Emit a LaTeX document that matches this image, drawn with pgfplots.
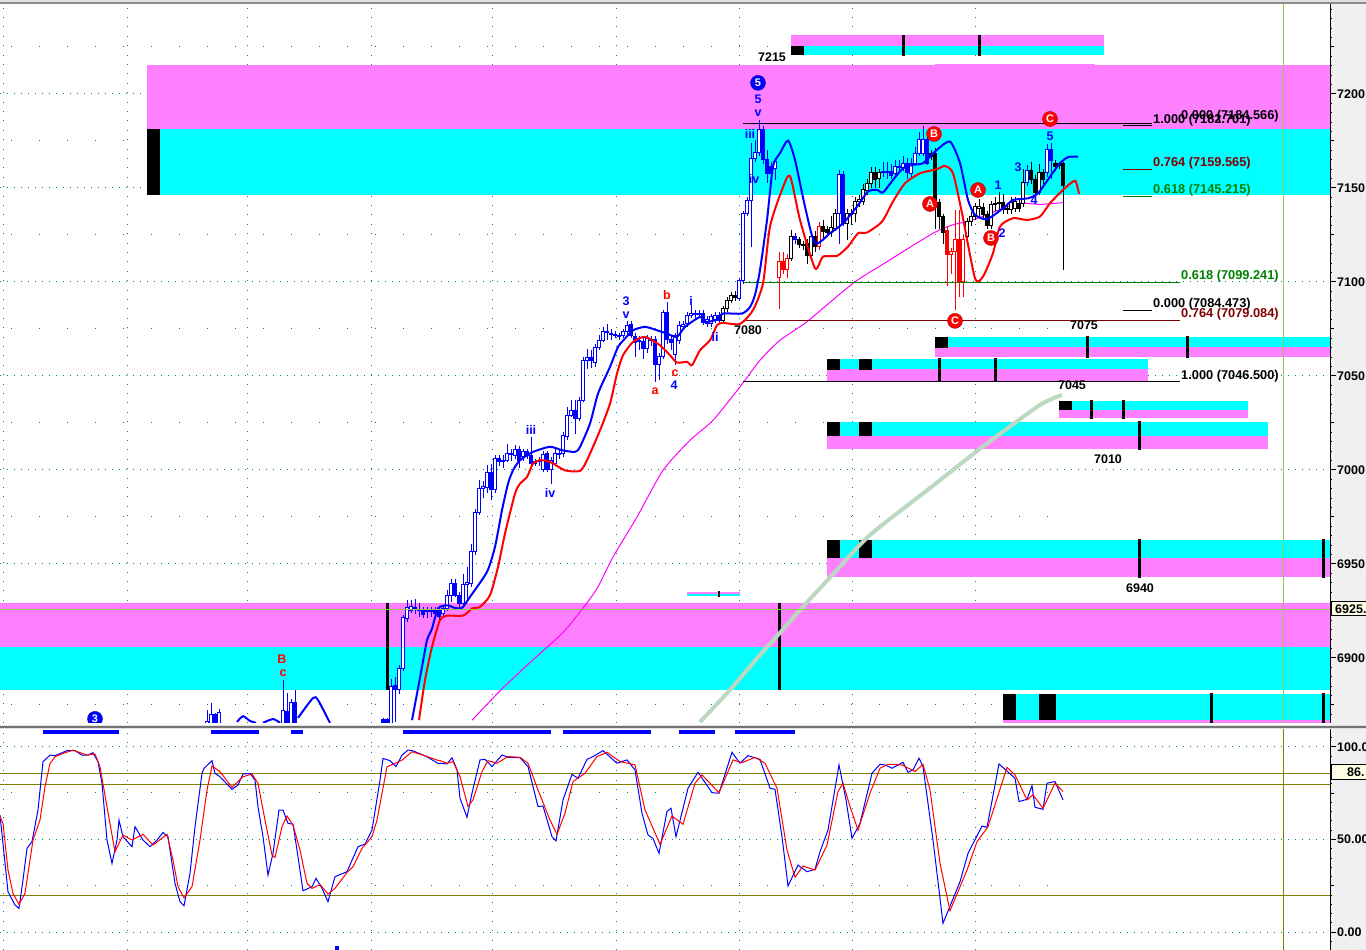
\documentclass[border=0pt]{standalone}
\usepackage{fontspec}
\setmainfont{Liberation Sans}
\usepackage{pgfplots}
\pgfplotsset{compat=1.18}

\definecolor{pinkband}{HTML}{FF80FF}
\definecolor{cyanband}{HTML}{00FFFF}
\definecolor{dotteal}{HTML}{008080}
\definecolor{olive2}{HTML}{808000}
\definecolor{vgreen}{HTML}{90C850}
\definecolor{pale}{HTML}{BCD8C0}
\definecolor{fibred}{HTML}{800000}
\definecolor{fibgreen}{HTML}{008000}
\definecolor{boxy}{HTML}{FFFFE6}
\definecolor{mg}{HTML}{FF00FF}

\newcommand\tk{\fontsize{12.5}{14}\selectfont\bfseries}
\newcommand\lbl{\fontsize{12.5}{14}\selectfont\bfseries}
\newcommand\fib{\fontsize{12.8}{14}\selectfont\bfseries}

% line colour, body colour, x, high, low, body top, body bottom
\newcommand\cnd[7]{%
  \pgfmathsetmacro\xa{#3-1.5}\pgfmathsetmacro\xb{#3+1.5}%
  \edef\temp{\noexpand\addplot[#1,line width=1pt] coordinates {(#3,#4)(#3,#5)};%
    \noexpand\addplot[draw=#1,fill=#2,line width=1pt] coordinates {(\xa,#6)(\xb,#6)(\xb,#7)(\xa,#7)} -- cycle;}\temp}
\newcommand\BH[5]{\cnd{blue}{white}{#1}{#2}{#3}{#4}{#5}}
\newcommand\BF[5]{\cnd{blue}{blue}{#1}{#2}{#3}{#4}{#5}}
\newcommand\KH[5]{\cnd{black}{white}{#1}{#2}{#3}{#4}{#5}}
\newcommand\KF[5]{\cnd{black}{black}{#1}{#2}{#3}{#4}{#5}}
\newcommand\RH[5]{\cnd{red}{white}{#1}{#2}{#3}{#4}{#5}}
\newcommand\RF[5]{\cnd{red}{red}{#1}{#2}{#3}{#4}{#5}}

% colour, x1, x2, y1, y2
\newcommand\rect[5]{\addplot[fill=#1,draw=none] coordinates {(#2,#4)(#3,#4)(#3,#5)(#2,#5)} -- cycle;}
\newcommand\tbar[3]{\addplot[black,line width=3pt] coordinates {(#1,#2)(#1,#3)};}
\newcommand\wv[4]{\node[text=#1,font=\lbl,inner sep=0pt] at (axis cs:#2,#3) {#4};}
\newcommand\cir[4]{\node[circle,fill=#1,draw=#1!60!black,text=white,font=\fontsize{11}{12}\selectfont\bfseries,inner sep=0pt,minimum size=15pt] at (axis cs:#2,#3) {#4};}
\newcommand\fl[4]{\node[text=#1,font=\fib,inner sep=0pt,anchor=west,yshift=-1.5pt] at (axis cs:#2,#3) {#4};}
\newcommand\pl[3]{\node[text=black,font=\fontsize{12.5}{14}\selectfont\bfseries,inner sep=0pt] at (axis cs:#1,#2) {#3};}

\pgfplotsset{chart/.style={
  scale only axis, xmin=0, xmax=1330,
  axis y line*=right, axis x line*=bottom,
  x axis line style={draw=none},
  xmajorgrids, xminorgrids, ymajorgrids,
  xtick={3,127,247,371,492,616,739,852,975},
  minor xtick={11,39,...,1047},
  xticklabels={}, x tick style={draw=none},
  major x grid style={dotteal,line width=1pt,dash pattern=on 1pt off 8.4pt},
  y grid style={dotteal,line width=1pt,dash pattern=on 1pt off 6pt},
  tick align=outside,
  major tick length=6pt, minor tick length=1.5pt,
  y tick style={black,line width=1pt},
  y axis line style={black,line width=1pt},
  yticklabel style={font=\tk,inner sep=0pt,anchor=west,xshift=1pt},
  /pgf/number format/assume math mode=true,
  /pgf/number format/1000 sep={},
}}

\begin{document}
\begin{tikzpicture}[x=1pt,y=1pt]
\path[use as bounding box,clip] (0,0) rectangle (1366,950);
\fill[white] (0,0) rectangle (1366,950);
\fill[black!6] (1331,0) rectangle (1366,950);

% price panel
\begin{axis}[chart,
  at={(0pt,227pt)}, anchor=south west, width=1330pt, height=723pt,
  ymin=6865.4, ymax=7250,
  ytick={6900,6950,7000,7050,7100,7150,7200},
  minor ytick={6870,6875,...,7245},
  extra y ticks={6875,6925,6975,7025,7075,7125,7175,7225},
  extra y tick labels={},
  extra y tick style={major tick length=3.5pt,grid=none},
  minor x grid style={dotteal,line width=1pt,dash pattern=on 1pt off 93pt,dash phase=76pt},
]
% supply and demand bands
\rect{pinkband}{147}{1330}{7215.4}{7181.4}
\rect{cyanband}{147}{1330}{7181.4}{7146.3}
\rect{black}{147}{160}{7181.4}{7146.3}
\rect{pinkband}{935}{1095}{7216.2}{7215}
\rect{pinkband}{0}{1330}{6929.3}{6905.9}
\rect{cyanband}{0}{1330}{6905.9}{6883}
\tbar{387}{6929.3}{6883}
\tbar{779}{6929.3}{6883}
\rect{pinkband}{791}{1104}{7231.4}{7225.5}
\rect{cyanband}{791}{1104}{7225.5}{7220.7}
\rect{black}{791}{804}{7225.5}{7220.7}
\tbar{903}{7231.4}{7220.4}
\tbar{979}{7231.4}{7220.4}
\rect{cyanband}{935}{1330}{7070.7}{7065.4}
\rect{pinkband}{935}{1330}{7065.4}{7060.1}
\rect{black}{935}{948}{7070.7}{7065}
\tbar{1087}{7071}{7059.6}
\tbar{1187}{7071}{7059.6}
\rect{cyanband}{827}{1148}{7059}{7053.7}
\rect{pinkband}{827}{1148}{7053.7}{7047.3}
\rect{black}{827}{840}{7059}{7053.2}
\rect{black}{859}{872}{7059}{7053.2}
\tbar{939}{7059.6}{7046.8}
\tbar{995}{7059.6}{7046.8}
\rect{cyanband}{1059}{1248}{7036.7}{7031.9}
\rect{pinkband}{1059}{1248}{7031.9}{7027.7}
\rect{black}{1059}{1072}{7036.7}{7031.9}
\tbar{1091}{7037.2}{7027.2}
\tbar{1123}{7037.2}{7027.2}
\rect{cyanband}{827}{1268}{7025.5}{7018.1}
\rect{pinkband}{827}{1268}{7018.1}{7011.2}
\rect{black}{827}{840}{7025.5}{7018.1}
\rect{black}{859}{872}{7025.5}{7018.1}
\tbar{1139}{7026}{7010.6}
\rect{cyanband}{827}{1330}{6962.8}{6953.2}
\rect{pinkband}{827}{1330}{6953.2}{6943.1}
\rect{black}{827}{840}{6962.8}{6953.2}
\rect{black}{859}{872}{6962.8}{6953.2}
\tbar{1139}{6963.3}{6942.5}
\tbar{1323}{6963.3}{6942.5}
\rect{pinkband}{687}{740}{6935.1}{6934}
\rect{cyanband}{687}{740}{6934}{6933}
\addplot[black,line width=2pt] coordinates {(719,6935.4)(719,6932.6)};
\rect{cyanband}{1003}{1330}{6880.9}{6867}
\rect{pinkband}{1003}{1330}{6867}{6865.4}
\rect{black}{1003}{1016}{6880.9}{6867}
\rect{black}{1039}{1056}{6880.9}{6867}
\tbar{1211}{6881.4}{6865.4}
\tbar{1323}{6881.4}{6865.4}

% thin moving average and the pale line
\addplot[mg,line width=1pt,smooth,tension=0.4] coordinates {(472,6866.9)(500,6882.5)(527,6896.1)(562,6913)(580,6924.5)(597,6936.9)(613,6953.7)(637,6975)(663,6999.8)(690,7015.8)(713,7026.4)(740,7044.2)(760,7058.4)(780,7069)(807,7078.9)(853,7099.3)(887,7110.8)(933,7125.9)(953,7130.4)(973,7133)(1003,7139.2)(1020,7141.9)(1040,7141.3)(1063,7142.2)};
\addplot[pale,line width=4pt,smooth,tension=0.4] coordinates {(700,6865.9)(730,6883)(760,6901.6)(778,6912.2)(800,6925.5)(835,6945.7)(870,6965.4)(930,6990.4)(985,7013.3)(1040,7034.6)(1062,7039.9)};

% retracement lines
\addplot[black,line width=1pt] coordinates {(743,7184.3)(1152,7184.3)};
\addplot[black,line width=1pt] coordinates {(1123,7183)(1152,7183)};
\addplot[fibred,line width=1pt] coordinates {(1123,7159.6)(1152,7159.6)};
\addplot[fibgreen,line width=1pt] coordinates {(1123,7145.2)(1152,7145.2)};
\addplot[fibgreen,line width=1pt] coordinates {(743,7099.5)(1180,7099.5)};
\addplot[black,line width=1pt] coordinates {(1123,7084.6)(1152,7084.6)};
\addplot[fibred,line width=1pt] coordinates {(743,7079.3)(1180,7079.3)};
\addplot[black,line width=1pt] coordinates {(743,7046.8)(1180,7046.8)};

% candles
\BF{383}{6868}{6860}{6867}{6860}
\BF{387}{6868}{6860}{6867}{6860}
\BH{391}{6889}{6860}{6884.6}{6860}
\BF{395}{6889.9}{6866}{6885.5}{6883}
\BH{399}{6896}{6881}{6894.3}{6883.2}
\BH{403}{6923}{6893}{6921.5}{6894.3}
\BH{407}{6930.7}{6919}{6927.1}{6920.9}
\BH{411}{6931}{6924}{6927.5}{6925.4}
\BF{415}{6931.6}{6923.6}{6927.1}{6925.7}
\BH{419}{6929}{6922}{6925.7}{6925}
\BF{423}{6927}{6921}{6925.4}{6923.2}
\BH{427}{6927}{6921}{6925.4}{6924.5}
\BH{431}{6927}{6922}{6925.4}{6924.8}
\BF{435}{6927}{6922}{6925.4}{6923.6}
\BF{439}{6927}{6920}{6925.4}{6921.8}
\BH{443}{6928}{6922}{6926.3}{6923.6}
\BH{447}{6936}{6925}{6933.3}{6926.3}
\BH{451}{6942.2}{6930}{6939.6}{6933.3}
\BF{455}{6942.2}{6932.5}{6939.6}{6933.3}
\BF{459}{6935}{6927}{6933.3}{6928.9}
\BH{463}{6944.9}{6928}{6939.2}{6928.9}
\BH{467}{6948.4}{6930}{6939.9}{6939.2}
\BH{471}{6960.8}{6938}{6956.4}{6939.6}
\BH{475}{6979}{6955}{6977.3}{6956.4}
\BH{479}{6994.5}{6976}{6990.1}{6977.3}
\BH{483}{6994}{6985}{6991}{6990.1}
\BH{487}{7002.5}{6988}{6998.9}{6990.6}
\BF{491}{7003.4}{6983.9}{6998.9}{6989.6}
\BH{495}{7008}{6988}{7006}{6989.6}
\BF{499}{7007.8}{7002}{7006}{7004.3}
\BH{503}{7008}{7001}{7005.2}{7004.3}
\BH{507}{7014}{7004}{7008.7}{7005.2}
\BH{511}{7011}{7005}{7008.7}{7008.2}
\BH{515}{7013.1}{7006}{7010.8}{7007.8}
\BF{519}{7013}{7001}{7010.8}{7004.8}
\BH{523}{7011}{7005}{7009.6}{7006.9}
\BF{527}{7011}{7006}{7009.6}{7007.8}
\BF{531}{7017.6}{7002}{7007.8}{7003.4}
\BH{535}{7006}{7002}{7004.3}{7003.7}
\BH{539}{7007}{7002}{7005.2}{7004.3}
\BH{543}{7010}{6999}{7008.4}{7000}
\BF{547}{7010}{6999}{7008.7}{7000}
\BH{551}{7007}{6992.7}{7005.2}{7000}
\BH{555}{7011}{7002}{7009}{7003.4}
\BF{559}{7011}{7006}{7009}{7008.4}
\BH{563}{7020}{7007}{7018.5}{7008.7}
\BH{567}{7033.5}{7016}{7029.1}{7017.9}
\BH{571}{7037.1}{7028}{7031.8}{7029.1}
\BF{575}{7037.1}{7019.3}{7031.8}{7027.3}
\BH{579}{7039}{7026}{7037.1}{7027.3}
\BH{583}{7060}{7036}{7058.3}{7037.1}
\BH{587}{7064.6}{7053.9}{7059.6}{7058.3}
\BF{591}{7064}{7054}{7059.8}{7058.3}
\BH{595}{7067}{7055}{7065.1}{7056.9}
\BH{599}{7072}{7064}{7069}{7065.1}
\BH{603}{7076.1}{7068}{7073.4}{7069}
\BH{607}{7077.9}{7069}{7073.4}{7072.9}
\BH{611}{7075}{7069}{7072.5}{7072}
\BH{615}{7074}{7070}{7072.2}{7071.6}
\BH{619}{7073}{7069}{7071.6}{7071}
\BH{623}{7075}{7070}{7073.4}{7071.6}
\BH{627}{7079}{7072}{7077}{7073.4}
\BF{631}{7079}{7070}{7077.3}{7071.6}
\BF{635}{7073}{7060}{7070.8}{7067.8}
\BH{639}{7071}{7064}{7069}{7068.1}
\BF{643}{7070}{7059.2}{7068.1}{7064.6}
\BH{647}{7072}{7062}{7069.9}{7064.6}
\BH{651}{7071}{7066}{7069.3}{7068.8}
\BF{655}{7071}{7046.8}{7069.3}{7056}
\BH{659}{7062}{7047.7}{7060.1}{7056}
\BH{663}{7085}{7059}{7083.7}{7060.1}
\BF{667}{7089.4}{7067}{7083.7}{7069.3}
\BF{671}{7071}{7064}{7069.3}{7067.6}
\BH{675}{7073}{7056}{7071.6}{7061.5}
\BH{679}{7079}{7067}{7077}{7068.6}
\BH{683}{7079}{7075}{7077.5}{7076.1}
\BH{687}{7084}{7076}{7082.3}{7077.9}
\BH{691}{7087.6}{7081}{7083.2}{7082.3}
\BH{695}{7085}{7081}{7083.2}{7082.6}
\BF{699}{7085}{7081}{7083.2}{7082.6}
\BF{703}{7085}{7077}{7083.2}{7078.2}
\BH{707}{7082}{7076}{7080}{7077.9}
\BH{711}{7083}{7076}{7081.4}{7077.9}
\BH{715}{7084}{7078}{7082.3}{7080}
\BF{719}{7084}{7078}{7082.3}{7079.3}
\KH{723}{7087}{7078}{7085.8}{7079.6}
\KH{727}{7092}{7084}{7090.3}{7085.8}
\KH{731}{7094.7}{7089}{7092.9}{7090.3}
\KF{735}{7095}{7090}{7092.9}{7091.7}
\BH{739}{7102}{7090}{7100.7}{7091.3}
\BH{743}{7138}{7099}{7136.2}{7100.7}
\BH{747}{7145}{7135}{7143.3}{7136.2}
\BH{751}{7173.8}{7118.8}{7165.8}{7143.3}
\BH{755}{7175.6}{7164}{7168.8}{7165.8}
\BH{759}{7186.2}{7167}{7181.2}{7168.8}
\BF{763}{7183}{7163}{7181.2}{7164.9}
\BF{767}{7170}{7152.5}{7164.9}{7157.8}
\BF{771}{7164}{7152.5}{7161.4}{7157.8}
\BH{775}{7166}{7154}{7164}{7160.5}
\RH{779}{7116.2}{7085.5}{7110.9}{7102.5}
\RF{783}{7116}{7104}{7110.9}{7106.8}
\RH{787}{7115}{7102}{7112.6}{7106.8}
\KH{791}{7127.7}{7111}{7124.2}{7112.6}
\BF{795}{7126}{7120}{7124.2}{7122.4}
\KF{799}{7124}{7118}{7122.4}{7119.7}
\KH{803}{7122}{7117}{7119.7}{7119.2}
\KF{807}{7123}{7109.6}{7120.6}{7113.9}
\KH{811}{7127}{7112}{7124.2}{7113.9}
\KF{815}{7127}{7116}{7124.2}{7118.8}
\RH{819}{7132}{7117}{7129.5}{7118.8}
\KF{823}{7133}{7123}{7129.5}{7126.8}
\KF{827}{7130}{7124}{7128}{7126.3}
\KH{831}{7135}{7124}{7129.1}{7126.3}
\KH{835}{7139}{7127}{7136.6}{7128.6}
\BH{839}{7159.6}{7120}{7157}{7136.6}
\BF{843}{7159}{7130}{7157.3}{7131.2}
\KH{847}{7139}{7122.4}{7136.6}{7131.2}
\KH{851}{7139}{7130.4}{7136.2}{7135.7}
\KH{855}{7145}{7132}{7142.8}{7136.2}
\KH{859}{7146}{7140}{7143.7}{7142.8}
\KH{863}{7152}{7141}{7149}{7142.8}
\KH{867}{7155}{7146}{7152.2}{7148.6}
\KH{871}{7161.4}{7150}{7158.2}{7152.2}
\KF{875}{7161}{7150}{7158.2}{7154.6}
\KH{879}{7160}{7150}{7158.2}{7155.2}
\BH{883}{7164}{7156}{7158.7}{7158.2}
\BH{887}{7164}{7155}{7158.7}{7158.2}
\BF{891}{7163}{7155}{7158.7}{7156.9}
\BH{895}{7165}{7156}{7161.4}{7157.8}
\BH{899}{7165}{7158}{7161.4}{7160.9}
\BH{903}{7167}{7159}{7162.8}{7160.9}
\BF{907}{7166}{7155}{7163.2}{7158.2}
\BH{911}{7166}{7155}{7163.2}{7157.8}
\BH{915}{7172}{7162}{7168.5}{7163.2}
\BH{919}{7180}{7167}{7175.9}{7168.5}
\BH{923}{7183}{7167}{7175.9}{7168.5}
\BF{927}{7178}{7162}{7175.9}{7163.2}
\KF{931}{7170}{7165}{7168.1}{7167}
\KF{935}{7171}{7128}{7168.1}{7142.8}
\KF{939}{7144}{7128}{7142.2}{7134.8}
\KF{943}{7136}{7120}{7134.8}{7126.5}
\RF{947}{7130}{7097.6}{7127.4}{7114.4}
\RH{951}{7118}{7104}{7116.2}{7114.8}
\RH{955}{7138.3}{7085.2}{7122.4}{7116.2}
\RF{959}{7138.3}{7092.2}{7122.4}{7100.2}
\RH{963}{7125}{7092}{7122.4}{7100.2}
\KH{967}{7134}{7122}{7132.1}{7124.2}
\KH{971}{7137}{7130}{7134.8}{7132.1}
\KH{975}{7142}{7133}{7140.1}{7134.8}
\KH{979}{7144}{7134}{7140.1}{7139.2}
\KF{983}{7142}{7134}{7139.7}{7135.7}
\KF{987}{7138}{7128}{7135.7}{7130}
\KH{991}{7143}{7128}{7141}{7130}
\KH{995}{7145}{7138}{7141.9}{7141}
\KH{999}{7148.1}{7137}{7142.2}{7141.7}
\KF{1003}{7147}{7136}{7142.2}{7138.3}
\KH{1007}{7142}{7136}{7139.2}{7138.3}
\KH{1011}{7145}{7136}{7142.2}{7138.3}
\KH{1015}{7145}{7137}{7142.8}{7139.2}
\KF{1019}{7144}{7137}{7141.9}{7139.2}
\KH{1023}{7160}{7140}{7152.9}{7141.9}
\BH{1027}{7162}{7151}{7159.3}{7152.9}
\KF{1031}{7164}{7152}{7159.3}{7154.6}
\KF{1035}{7157}{7146}{7154.6}{7147.6}
\KH{1039}{7163}{7146}{7158.2}{7147.6}
\KF{1043}{7160}{7152}{7158.2}{7154.6}
\BH{1047}{7173.4}{7156}{7170.2}{7158.2}
\BF{1051}{7174}{7155}{7170.6}{7164.6}
\KF{1055}{7165}{7159}{7163.2}{7161.4}
\KF{1059}{7164}{7160}{7162.8}{7161.8}
\KF{1063}{7164}{7106.4}{7162.8}{7151.3}
% older candles along the bottom edge
\BH{207}{6872.3}{6860}{6866}{6860}
\BH{211}{6876}{6860}{6869.7}{6860}
\BF{215}{6870.5}{6860}{6869.7}{6860}
\BH{219}{6873}{6860}{6871}{6860}
\BH{283}{6888.3}{6860}{6871.8}{6860}
\BF{287}{6881.4}{6860}{6871.3}{6860}
\BH{291}{6878}{6860}{6876.1}{6860}
\BF{295}{6883}{6860}{6876.1}{6860}
\addplot[blue,line width=2pt,smooth,tension=0.4] coordinates {(237,6866)(243,6869)(250,6866.5)(256,6865.5)};
\addplot[blue,line width=2pt,smooth,tension=0.4] coordinates {(263,6865.5)(273,6867.5)(280,6865.5)};
\addplot[blue,line width=2pt,smooth,tension=0.4] coordinates {(298,6868.1)(313,6878.7)(318,6877.6)(330,6865.4)};

% thick moving averages
\addplot[blue,line width=2pt,smooth,tension=0.4] coordinates {(412,6866.9)(417,6881)(422,6895.2)(427,6909.4)(432,6915.6)(438,6926.3)(447,6928)(455,6926.6)(462,6926.6)(470,6932.5)(487,6945.8)(495,6959.1)(502,6978.6)(508,6992.7)(513,6999.8)(520,7005.2)(533,7009.6)(550,7012.3)(562,7010.5)(575,7009.6)(580,7012.3)(590,7024.7)(598,7040.6)(610,7054.8)(618,7065.4)(625,7069.9)(633,7074.3)(645,7076.1)(657,7074.3)(667,7072.5)(677,7070.8)(685,7076.1)(700,7081.4)(705,7078.7)(717,7080)(723,7083.2)(742,7083.2)(750,7086.7)(755,7093.1)(760,7106.4)(767,7133)(773,7161.4)(780,7168.5)(788,7175.2)(795,7164.9)(805,7140.1)(815,7120.6)(830,7125.9)(843,7131.2)(857,7140.1)(868,7148.1)(877,7149)(883,7147.6)(893,7154.3)(903,7160.5)(913,7162.3)(923,7163.2)(937,7170.3)(950,7174.7)(960,7163.2)(968,7143.6)(975,7135.7)(987,7133.4)(1003,7139.2)(1013,7143.6)(1028,7144.5)(1038,7147.2)(1050,7156)(1060,7163.2)(1068,7166.4)(1078,7166.7)};
\addplot[red,line width=2pt,smooth,tension=0.4] coordinates {(419,6866.9)(425,6888.2)(432,6905.9)(440,6920.1)(447,6922.5)(463,6922.5)(472,6926.3)(480,6927.2)(490,6933.4)(498,6948.4)(505,6966.2)(515,6987.4)(520,6992.7)(527,6996.3)(533,7003.4)(540,7005.2)(550,7004.3)(565,6999.8)(580,6999.5)(587,7005.2)(600,7021.1)(610,7035.3)(617,7051.3)(623,7061)(633,7068.1)(645,7070.8)(660,7066.3)(670,7061)(677,7057.1)(687,7057.5)(692,7055.7)(700,7063.7)(710,7069)(717,7077)(723,7078.2)(740,7077.7)(753,7085.1)(763,7099.3)(770,7129.5)(782,7149)(790,7156.4)(800,7133)(815,7107.3)(823,7113.5)(837,7113.9)(848,7118.8)(858,7125.9)(867,7126.3)(882,7132.1)(893,7142.8)(905,7152.5)(920,7157.8)(937,7160)(945,7161.7)(953,7157.8)(962,7136.6)(975,7102)(983,7102.9)(993,7115.3)(1000,7129.5)(1013,7133.9)(1027,7133)(1040,7134.8)(1050,7141.9)(1063,7149)(1075,7153.8)(1079,7146.8)};

% last price and the cursor
\addplot[vgreen,line width=1pt] coordinates {(0,6926)(1330,6926)};
\addplot[vgreen,line width=1pt] coordinates {(1283,6865.4)(1283,7250)};

% wave labels
\cir{blue}{758}{7205.9}{5}
\wv{blue}{758}{7197.3}{5}
\wv{blue}{758}{7189.9}{v}
\wv{blue}{750}{7178.7}{iii}
\wv{blue}{754}{7154.8}{iv}
\wv{blue}{626}{7089.9}{3}
\wv{blue}{626}{7082.4}{v}
\wv{red}{667}{7093.1}{b}
\wv{blue}{691}{7089.9}{i}
\wv{blue}{715}{7070.7}{ii}
\wv{red}{655}{7042}{a}
\wv{red}{675}{7051.6}{c}
\wv{blue}{674}{7045.2}{4}
\wv{blue}{531}{7021.3}{iii}
\wv{blue}{550}{6987.8}{iv}
\wv{red}{282}{6899.5}{B}
\wv{red}{283}{6892}{c}
\cir{blue}{95}{6867.6}{3}
\cir{red}{934}{7178.7}{B}
\cir{red}{930}{7141.5}{A}
\cir{red}{978}{7148.9}{A}
\cir{red}{991}{7123.4}{B}
\cir{red}{955}{7079.3}{C}
\cir{red}{1050}{7186.7}{C}
\wv{blue}{1050}{7177.7}{5}
\wv{blue}{1018}{7161.2}{3}
\wv{blue}{998}{7151.6}{1}
\wv{blue}{1034}{7143.6}{4}
\wv{blue}{1002}{7126.1}{2}
\pl{772}{7219.7}{7215}
\pl{748}{7074.5}{7080}
\pl{1084}{7077.1}{7075}
\pl{1072}{7045.2}{7045}
\pl{1108}{7005.9}{7010}
\pl{1140}{6937.2}{6940}
\fl{black}{1181}{7188.8}{0.000 (7184.566)}
\fl{black}{1153}{7186.7}{1.000 (7182.701)}
\fl{fibred}{1153}{7163.8}{0.764 (7159.565)}
\fl{fibgreen}{1153}{7149.5}{0.618 (7145.215)}
\fl{fibgreen}{1181}{7103.7}{0.618 (7099.241)}
\fl{black}{1153}{7088.8}{0.000 (7084.473)}
\fl{fibred}{1181}{7083.5}{0.764 (7079.084)}
\fl{black}{1181}{7050.6}{1.000 (7046.500)}
\end{axis}

% stochastic panel
\begin{axis}[chart,
  at={(0pt,0pt)}, anchor=south west, width=1330pt, height=221pt,
  ymin=-9.7, ymax=109.7,
  ytick={0,50,100},
  minor ytick={-5,5,10,15,20,30,35,40,45,55,60,65,70,80,85,90,95,105},
  extra y ticks={25,75},
  extra y tick labels={},
  extra y tick style={major tick length=3.5pt,grid=none},
  yticklabel style={/pgf/number format/fixed,/pgf/number format/fixed zerofill,/pgf/number format/precision=2},
  minor x grid style={dotteal,line width=1pt,dash pattern=on 1pt off 92pt,dash phase=29pt},
]
\addplot[olive2,line width=1pt] coordinates {(0,85.8)(1330,85.8)};
\addplot[olive2,line width=1pt] coordinates {(0,79.8)(1330,79.8)};
\addplot[olive2,line width=1pt] coordinates {(0,19.8)(1330,19.8)};
\addplot[olive2,line width=1pt] coordinates {(1283,-9.7)(1283,109.7)};
% blue markers under the separator
\addplot[blue,line width=4pt] coordinates {(43,108.1)(119,108.1)};
\addplot[blue,line width=4pt] coordinates {(211,108.1)(259,108.1)};
\addplot[blue,line width=4pt] coordinates {(291,108.1)(303,108.1)};
\addplot[blue,line width=4pt] coordinates {(403,108.1)(551,108.1)};
\addplot[blue,line width=4pt] coordinates {(563,108.1)(651,108.1)};
\addplot[blue,line width=4pt] coordinates {(679,108.1)(715,108.1)};
\addplot[blue,line width=4pt] coordinates {(735,108.1)(795,108.1)};
\addplot[blue,only marks,mark=square*,mark size=1.5pt] coordinates {(337,-8.6)};
% %K
\addplot[blue,line width=1pt] coordinates {(0,63.2)(4,42.5)(8,21.8)(15,14.6)(19,12.8)(23,28.1)(27,45.2)(32,48.8)(38,65.9)(43,92)(50,95.6)(55,95.3)(67,98)(75,98)(82,95.6)(88,95.6)(93,96.9)(98,92)(102,80.3)(107,49.7)(112,37.1)(117,49.7)(119,60.5)(123,51.5)(132,46.1)(135,56.9)(143,49.7)(150,46.1)(157,49.7)(163,53.8)(168,51.5)(175,26.3)(180,16.4)(184,14.2)(190,31.7)(195,56.9)(202,85.7)(204,88.4)(212,92.6)(215,85.7)(220,83.9)(232,77.1)(238,79.4)(243,85.4)(250,85.7)(255,82.1)(258,67.7)(263,51.5)(268,30.8)(273,42.5)(279,65.9)(283,65.9)(288,58.7)(293,58.3)(297,44.3)(303,22.3)(312,24.5)(316,29)(322,23.6)(328,16.4)(335,29.9)(347,32.6)(358,46.1)(365,47.5)(372,55.1)(380,82.1)(383,93.8)(390,92.6)(396,89.4)(402,95.6)(408,98.3)(413,97.9)(427,94.7)(438,91.1)(440,91.2)(447,90.8)(452,94.2)(457,87.6)(460,72.3)(467,62)(472,75)(480,93)(485,93.3)(492,89.4)(502,95.7)(508,94.4)(520,94.2)(528,89.4)(538,67.8)(543,68.1)(552,51.5)(556,49.2)(563,71.4)(572,85.2)(578,83.1)(587,93.3)(593,94.8)(603,98)(617,91.2)(627,93)(635,87.6)(642,64.2)(648,52.4)(653,50.6)(659,42.5)(667,65.1)(671,66.9)(676,51.5)(688,77.7)(698,86.3)(712,75.3)(719,75)(732,97.1)(740,91.2)(748,95.3)(760,93.3)(770,77.7)(775,77.1)(782,51.5)(788,24.9)(798,36.2)(807,32.6)(815,33.9)(820,43.4)(828,55.1)(839,90.3)(846,71.4)(852,50.6)(860,58.7)(872,85.8)(880,90.6)(885,90.3)(892,88.5)(903,91.7)(908,86.3)(913,87.6)(919,93.9)(923,89.4)(933,49.7)(943,4.7)(960,27.2)(968,42.5)(982,57.3)(987,56.6)(999,90.8)(1015,83.1)(1019,70.5)(1027,71.7)(1032,79.1)(1035,67.4)(1043,66.3)(1047,80.4)(1055,81.3)(1063,71.4)};
% %D
\addplot[red,line width=1pt] coordinates {(0,62.3)(3,58.7)(8,33.5)(13,20.9)(19,14.9)(25,20.9)(33,49.7)(40,60.5)(45,78.5)(50,91.1)(55,94.7)(63,96.5)(73,98.3)(87,95.6)(95,96.2)(100,89.3)(107,67.7)(115,43.4)(123,52.4)(132,49.7)(143,52.8)(153,47)(167,52.8)(173,38.9)(178,24.5)(184,18.5)(192,24.5)(200,49.7)(207,76.7)(212,89.7)(220,86.6)(232,78.2)(243,83.9)(252,85.4)(258,80.3)(265,60.5)(272,41.6)(275,40.3)(282,56.9)(287,62.7)(293,57.8)(300,44.3)(307,26.3)(312,23.6)(320,25.7)(328,20.5)(335,23.6)(347,32.2)(353,35.3)(362,45.2)(372,51.5)(377,60.5)(387,89.3)(395,91.1)(402,92.9)(412,97.4)(423,95.6)(437,92.9)(440,92.6)(447,91.2)(453,92.1)(460,84)(468,67.8)(473,71.4)(482,86.7)(488,92.6)(497,91.2)(508,94.8)(520,94.4)(528,91.2)(538,76.8)(550,60.5)(557,52.8)(565,64.2)(573,81.3)(585,85.8)(597,94.8)(607,97.1)(620,92.1)(635,90.3)(645,66)(660,47.4)(672,62.7)(683,58.2)(695,80.4)(702,84.9)(710,80.4)(719,75.3)(733,93)(742,91.5)(755,94.4)(765,91.2)(777,77.7)(787,44.3)(795,29.6)(803,35.7)(815,33.5)(827,47)(838,75.9)(843,80.4)(850,67.8)(858,55.1)(870,75)(880,88.5)(888,90.6)(902,90.3)(915,86.7)(923,90.6)(930,76.8)(940,37.1)(950,11.5)(967,33.5)(977,48.8)(988,56.9)(1007,89)(1015,84.9)(1027,71.4)(1033,74.1)(1043,66.9)(1055,80.4)(1063,75.9)};
\end{axis}

% window chrome
\fill[black!45] (0,946) rectangle (1366,948);
\fill[black!12] (0,948) rectangle (1366,950);
\fill[white] (0,227) rectangle (1330,225);
\fill[black!12] (0,225) rectangle (1366,224);
\fill[black!55] (0,224) rectangle (1366,222);
\fill[black!12] (0,222) rectangle (1366,221);
\node[draw=black,fill=boxy,line width=1pt,anchor=west,minimum width=50pt,minimum height=14pt,inner sep=0pt,text depth=0pt] (a) at (1330.5,341) {};
\node[font=\tk,anchor=west,inner sep=0pt] at (1335,341) {6925.};
\node[draw=black,fill=boxy,line width=1pt,anchor=west,minimum width=50pt,minimum height=15pt,inner sep=0pt] (b) at (1330.5,177.5) {};
\node[font=\tk,anchor=west,inner sep=0pt] at (1347,177.5) {86.};
\end{tikzpicture}
\end{document}
